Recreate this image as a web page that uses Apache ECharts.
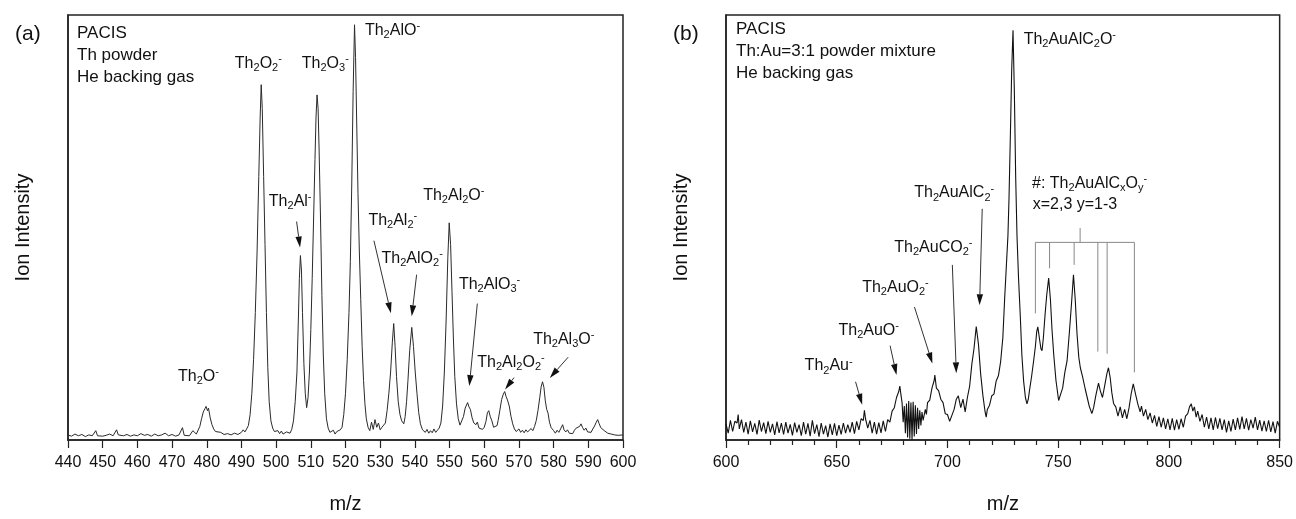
<!DOCTYPE html>
<html>
<head>
<meta charset="utf-8">
<script src="https://cdn.jsdelivr.net/npm/echarts@6.0.0/dist/echarts.min.js"></script>
<style>
html, body { margin: 0; padding: 0; background: #fff; }
#main { width: 1296px; height: 519px; }
</style>
</head>
<body>
<div id="main"></div>
<script>
var FONT = '"Liberation Sans", Arial, Helvetica, sans-serif';

// (a) Th powder, He backing gas : [m/z, intensity]
var specA = [
  [440,1.2],[441,0.9],[442,1.4],[443,1.0],[444,1.3],[445,0.8],[446,1.2],[447,1.0],[448,2.2],[448.5,1.0],
  [449,1.3],[450,0.9],[451,1.1],[452,1.4],[453,1.0],[454,2.4],[454.5,1.2],[455,1.6],[456,1.0],[457,1.3],
  [458,0.9],[459,1.2],[460,1.0],[461,1.5],[462,1.1],[463,1.3],[464,0.9],[465,1.4],[466,1.0],[467,1.2],
  [468,1.6],[469,1.0],[470,1.3],[471,0.9],[472,1.2],[473,2.9],[473.5,1.1],[474,1.4],[475,1.0],[476,2.2],
  [477,1.4],[478,3.2],[478.5,5.0],[479,6.6],[479.5,7.4],[479.8,7.9],[480.2,6.9],[480.5,7.5],[481,5.2],[481.5,3.6],
  [482,2.6],[482.5,2.0],[483,1.6],[484,1.8],[485,1.3],[486,1.5],[487,1.2],[488,1.6],[489,1.3],[490,1.8],
  [490.5,2.4],[491,1.9],[491.5,2.6],[492,3.4],[492.5,6.0],[493,11.0],[493.5,19.0],[494,30.0],[494.5,44.0],[495,62.0],
  [495.4,76.0],[495.7,83.6],[496.0,78.0],[496.4,62.0],[496.8,46.0],[497.2,30.0],[497.6,17.0],[498,9.0],[498.5,4.5],[499,2.8],
  [499.5,2.0],[500,1.6],[500.5,2.2],[501,1.5],[501.5,2.1],[502,1.4],[503,1.9],[504,1.6],[504.5,2.5],[505,4.5],
  [505.5,9.0],[506,16.0],[506.4,28.0],[506.7,38.0],[507.0,43.4],[507.3,40.0],[507.6,30.0],[508,18.0],[508.4,11.0],[508.8,7.6],
  [509.2,10.0],[509.6,16.0],[510,26.0],[510.4,38.0],[510.8,52.0],[511.2,66.0],[511.5,76.0],[511.8,81.2],[512.1,78.0],[512.4,68.0],
  [512.8,52.0],[513.2,34.0],[513.6,20.0],[514,11.0],[514.5,5.0],[515,2.8],[515.5,1.8],[516,1.5],[516.5,2.3],[517,1.4],
  [517.5,2.0],[518,1.6],[518.5,2.4],[519,3.0],[519.5,6.0],[520,11.0],[520.5,19.0],[521,30.0],[521.4,42.0],[521.8,60.0],
  [522.2,82.0],[522.6,97.7],[522.9,90.0],[523.2,76.0],[523.6,58.0],[524,44.0],[524.4,33.0],[524.8,22.0],[525.2,14.0],[525.6,8.5],
  [526,5.0],[526.5,3.0],[527,2.2],[527.5,4.2],[528,2.5],[528.5,4.8],[529,3.0],[529.5,4.0],[530,2.4],[530.5,3.0],
  [531,2.6],[531.5,4.0],[532,7.0],[532.5,11.0],[533,16.0],[533.5,23.0],[533.9,27.4],[534.3,22.0],[534.7,15.0],[535.2,9.0],
  [535.7,6.0],[536.2,4.5],[536.8,3.8],[537.2,5.5],[537.6,9.0],[538,14.0],[538.5,21.0],[539.1,26.5],[539.6,22.0],[540.1,16.0],
  [540.6,11.0],[541.1,6.5],[541.6,3.8],[542.2,2.4],[543,1.8],[543.5,2.5],[544,1.6],[544.5,2.2],[545,1.7],[545.5,2.6],
  [546,1.8],[546.5,2.3],[547,2.8],[547.5,4.0],[548,8.0],[548.5,16.0],[549,28.0],[549.5,43.0],[549.9,51.1],[550.3,46.0],
  [550.7,35.0],[551.1,24.0],[551.5,15.0],[552,8.5],[552.5,5.0],[553,3.5],[553.5,3.8],[554,5.5],[554.5,7.5],[555.2,8.8],
  [555.6,7.8],[556,7.2],[556.5,5.2],[557,4.0],[557.6,3.6],[558,4.2],[558.5,2.8],[559,3.2],[559.5,2.5],[560,3.0],
  [560.5,4.4],[560.9,6.4],[561.3,6.9],[561.7,5.6],[562.2,4.5],[562.7,3.0],[563.2,2.6],[563.7,3.4],[564,4.6],[564.5,7.0],
  [565,9.5],[565.5,10.8],[565.9,11.4],[566.3,10.2],[566.7,9.4],[567.2,8.0],[567.7,5.6],[568.2,3.8],[568.7,2.6],[569.2,2.0],
  [570,2.6],[570.5,1.8],[571,2.3],[571.5,1.7],[572,2.4],[572.5,1.9],[573,2.1],[573.5,2.7],[574,2.2],[574.5,3.2],
  [575,4.6],[575.5,7.0],[576,10.0],[576.4,12.5],[576.8,13.7],[577.2,12.4],[577.6,9.2],[578,7.2],[578.4,6.3],[578.8,4.2],
  [579.3,2.9],[580,2.2],[580.5,1.6],[581,2.3],[581.5,1.8],[582,2.6],[582.6,3.6],[583,2.4],[583.5,1.9],[584,2.4],
  [584.5,1.6],[585,2.0],[585.5,1.5],[586,2.3],[586.5,2.8],[587,2.4],[587.5,3.2],[587.9,3.8],[588.3,3.0],[588.8,2.3],
  [589.3,2.8],[589.8,1.9],[590.3,2.3],[590.8,1.8],[591.3,2.6],[591.8,3.3],[592.3,4.2],[592.7,4.8],[593.1,3.9],[593.6,2.9],
  [594.1,3.3],[594.6,2.2],[595.1,2.4],[595.6,1.6],[596.1,1.9],[596.6,1.4],[597.1,1.7],[597.6,1.2],[598.1,1.5],[598.6,1.1],
  [599.1,1.4],[600,1.2]
];

// (b) Th:Au=3:1 powder mixture : [m/z, intensity]
var specB = [
  [600,3.8],[601,1.6],[602,4.6],[603,2.0],[604,4.4],[605,4.0],[605.5,6.0],[606,2.6],[607,4.8],[608,1.8],
  [609,4.2],[610,1.4],[611,4.5],[612,1.9],[613,3.9],[614,1.3],[615,4.7],[616,2.0],[617,4.1],[618,1.5],
  [619,4.4],[620,1.8],[621,3.8],[622,1.2],[623,4.3],[624,1.7],[625,4.0],[626,1.3],[627,4.2],[628,1.6],
  [629,3.7],[630,1.1],[631,4.1],[632,1.8],[633,3.6],[634,1.0],[635,4.2],[636,1.4],[637,3.9],[638,0.9],
  [639,4.6],[640,1.5],[641,3.6],[642,0.8],[643,4.0],[644,1.4],[645,3.4],[646,0.7],[647,3.8],[648,1.2],
  [649,3.9],[650,1.0],[651,3.5],[652,1.3],[653,4.0],[654,1.6],[655,3.6],[656,1.8],[657,4.2],[658,1.5],
  [659,4.4],[660,2.4],[661,5.0],[662,4.6],[662.5,7.0],[663,5.0],[664,2.8],[665,4.6],[666,1.6],[667,4.2],
  [668,1.4],[669,4.1],[670,1.7],[671,4.5],[672,2.0],[673,4.8],[674,4.2],[675,6.8],[676,7.6],[677,10.0],
  [678,11.4],[678.5,12.7],[679,10.6],[679.5,8.8],[680,4.2],[680.5,8.0],[681,1.6],[681.5,8.6],[682,0.6],[682.5,9.2],
  [683,0.3],[683.5,8.8],[684,0.1],[684.5,9.0],[685,0.8],[685.5,8.2],[686,1.4],[686.5,7.6],[687,2.6],[687.5,7.0],
  [688,3.4],[688.5,6.6],[689,4.6],[690,7.2],[690.5,6.0],[691,8.8],[692,9.4],[693,12.2],[694,14.0],[694.3,15.3],
  [695,12.2],[696,11.6],[697,9.6],[698,8.8],[699,6.2],[700,6.0],[701,4.4],[702,5.8],[703,7.2],[704,9.6],
  [704.9,10.4],[706,7.6],[707,9.6],[708,6.6],[709,10.0],[710,12.6],[711,17.8],[712,21.6],[713,26.7],[714,22.5],
  [715,15.5],[716,10.5],[717,6.6],[717.5,5.4],[718,7.2],[719,8.2],[720,10.4],[721,10.8],[722,13.9],[723,15.1],
  [724,18.4],[725,24.0],[725.8,33.0],[726.5,40.0],[727.3,48.0],[727.8,57.0],[728.5,74.0],[729.0,87.0],[729.6,96.4],[730.2,82.0],
  [730.8,62.0],[731.4,48.0],[732.1,38.0],[732.9,29.0],[733.6,20.0],[734.4,13.8],[735.2,10.0],[735.9,8.5],[736.5,9.6],[737,11.5],
  [738,15.0],[739,19.0],[739.7,22.0],[740.3,25.5],[740.8,26.6],[741.5,24.0],[742.2,21.5],[742.7,21.0],[743.3,24.0],[744,29.0],
  [744.8,34.0],[745.7,38.1],[746.5,33.0],[747.2,26.0],[748,20.0],[749,14.0],[750.2,9.3],[751,10.6],[752,12.2],[753,15.9],
  [754,18.6],[755,25.0],[756,32.0],[756.9,38.9],[757.7,33.0],[758.5,25.0],[759.3,19.5],[760,17.0],[761,14.9],[762.2,12.0],
  [763,11.6],[764,8.0],[765.2,6.2],[766,7.6],[767,10.5],[768.2,13.4],[769,11.6],[770,10.0],[771,12.8],[772,15.6],
  [772.7,17.0],[773.5,14.6],[774.2,11.2],[775,8.6],[776,7.8],[777,5.6],[778,7.8],[779,5.2],[780,7.2],[781,5.0],
  [782,7.6],[783,11.0],[783.9,13.2],[785,10.6],[786,8.4],[787,6.6],[787.6,8.0],[788.5,5.6],[789.5,7.2],[790.5,4.8],
  [791.5,6.4],[792.5,4.0],[793.5,5.8],[794.5,3.2],[795.5,5.5],[796.5,3.0],[797.5,5.2],[798.5,2.6],[799.5,5.0],[800.5,2.4],
  [801.5,5.1],[802.5,2.3],[803.5,4.8],[804.5,2.5],[805.5,5.0],[806.5,3.0],[807.5,5.6],[808.5,6.2],[809.3,7.8],[810.1,8.5],
  [810.8,6.8],[811.5,7.8],[812.3,5.4],[813,6.8],[814,4.4],[815,6.0],[816,3.0],[817,5.4],[818,2.6],[819,5.2],
  [820,2.4],[821,5.3],[822,2.7],[823,5.1],[824,2.4],[825,4.8],[826,1.8],[827,4.5],[828,2.0],[829,4.9],
  [830,2.4],[831,5.2],[832,2.5],[833,5.5],[834,2.6],[835,5.1],[836,2.3],[837,4.8],[838,2.8],[839,5.4],
  [840,2.4],[841,4.7],[842,2.1],[843,4.5],[844,2.0],[845,4.6],[846,1.9],[847,4.3],[848,1.6],[849,4.4],
  [850,3.0]
];

// peak labels: [m/z, intensity, text]  (text anchored at its left edge)
var labelsA = [
  [471.7, 15.0, 'Th{s|2}O{p|-}'],
  [488.1, 88.5, 'Th{s|2}O{s|2}{p|-}'],
  [507.4, 88.5, 'Th{s|2}O{s|3}{p|-}'],
  [525.6, 96.4, 'Th{s|2}AlO{p|-}'],
  [497.9, 56.2, 'Th{s|2}Al{p|-}'],
  [526.6, 51.6, 'Th{s|2}Al{s|2}{p|-}'],
  [530.4, 42.6, 'Th{s|2}AlO{s|2}{p|-}'],
  [542.4, 57.6, 'Th{s|2}Al{s|2}O{p|-}'],
  [552.7, 36.6, 'Th{s|2}AlO{s|3}{p|-}'],
  [558.0, 18.2, 'Th{s|2}Al{s|2}O{s|2}{p|-}'],
  [574.1, 23.7, 'Th{s|2}Al{s|3}O{p|-}']
];
var labelsB = [
  [635.5, 17.4, 'Th{s|2}Au{p|-}'],
  [650.8, 25.7, 'Th{s|2}AuO{p|-}'],
  [661.5, 35.9, 'Th{s|2}AuO{s|2}{p|-}'],
  [676.0, 45.2, 'Th{s|2}AuCO{s|2}{p|-}'],
  [685.0, 58.1, 'Th{s|2}AuAlC{s|2}{p|-}'],
  [734.4, 94.2, 'Th{s|2}AuAlC{s|2}O{p|-}'],
  [738.2, 60.4, '#: Th{s|2}AuAlC{s|x}O{s|y}{p|-}'],
  [738.5, 55.4, 'x=2,3 y=1-3']
];

// arrows: [from m/z, from intensity, to m/z, to intensity]
var arrowsA = [
  [505.9, 51.4, 506.9, 45.3],
  [528.2, 46.9, 533.1, 29.8],
  [540.5, 38.9, 539.1, 29.1],
  [558.0, 32.1, 555.7, 12.7],
  [568.6, 14.7, 566.0, 11.9],
  [584.2, 19.5, 578.9, 14.6]
];
var arrowsB = [
  [658.5, 13.7, 661.5, 8.3],
  [674.1, 22.2, 677.0, 15.3],
  [685.1, 31.3, 693.2, 18.0],
  [702.2, 41.2, 704.0, 15.7],
  [715.7, 54.4, 714.5, 31.7]
];

// "#" bracket in (b)
var bracketMz = [739.7, 746.1, 757.2, 767.9, 772.1, 784.4];
var bracketLow = [29.8, 40.4, 41.2, 20.8, 20.3, 15.9];
var bracketBar = 46.5;
var bracketStem = [759.9, 49.9];

var richStyle = {
  s: { fontSize: 11, fontFamily: FONT, fill: '#111', verticalAlign: 'bottom', lineHeight: 2 },
  p: { fontSize: 11, fontFamily: FONT, fill: '#111', verticalAlign: 'top', lineHeight: 7 }
};

function labelSeries(list, gi) {
  return {
    type: 'custom', xAxisIndex: gi, yAxisIndex: gi, silent: true, z: 10,
    data: list.map(function (d) { return [d[0], d[1]]; }),
    renderItem: function (params, api) {
      var p = api.coord([api.value(0), api.value(1)]);
      return {
        type: 'text', x: p[0], y: p[1],
        style: {
          text: list[params.dataIndex][2],
          fontSize: 16, fontFamily: FONT, fill: '#111',
          align: 'left', verticalAlign: 'middle', lineHeight: 20,
          rich: richStyle
        }
      };
    }
  };
}

function arrowSeries(list, gi) {
  return {
    type: 'custom', xAxisIndex: gi, yAxisIndex: gi, silent: true, z: 9,
    data: list,
    encode: { x: [0, 2], y: [1, 3] },
    renderItem: function (params, api) {
      var a = api.coord([api.value(0), api.value(1)]);
      var b = api.coord([api.value(2), api.value(3)]);
      var dx = b[0] - a[0], dy = b[1] - a[1];
      var len = Math.sqrt(dx * dx + dy * dy);
      var ux = dx / len, uy = dy / len;
      var hl = 11, hw = 3.2;
      var bx = b[0] - ux * hl, by = b[1] - uy * hl;
      return {
        type: 'group',
        children: [
          { type: 'line', shape: { x1: a[0], y1: a[1], x2: bx, y2: by }, style: { stroke: '#333', lineWidth: 1 } },
          { type: 'polygon', shape: { points: [[b[0], b[1]], [bx - uy * hw, by + ux * hw], [bx + uy * hw, by - ux * hw]] }, style: { fill: '#111' } }
        ]
      };
    }
  };
}

var bracketSegs = bracketMz.map(function (m, i) { return [m, bracketLow[i], m, bracketBar]; });
bracketSegs.push([bracketMz[0], bracketBar, bracketMz[bracketMz.length - 1], bracketBar]);
bracketSegs.push([bracketStem[0], bracketBar, bracketStem[0], bracketStem[1]]);

var axisCol = '#222';

function xAx(gi, min, max, interval, minor) {
  return {
    gridIndex: gi, type: 'value', min: min, max: max, interval: interval,
    name: 'm/z', nameLocation: 'middle', nameGap: 54,
    nameTextStyle: { fontSize: 20, color: '#111', fontFamily: FONT },
    axisLine: { show: true, onZero: false, lineStyle: { color: axisCol, width: 1.5 } },
    axisTick: { show: true, inside: false, length: 8, lineStyle: { color: axisCol, width: 1.2 } },
    minorTick: { show: minor, splitNumber: 5, length: 5, lineStyle: { color: axisCol, width: 1.2 } },
    axisLabel: { fontSize: 16, color: '#111', fontFamily: FONT, margin: 15 },
    splitLine: { show: false }
  };
}
function yAx(gi) {
  return {
    gridIndex: gi, type: 'value', min: 0, max: 100,
    name: 'Ion Intensity', nameLocation: 'middle', nameGap: 35, nameRotate: 90,
    nameTextStyle: { fontSize: 20, color: '#111', fontFamily: FONT },
    axisLine: { show: true, lineStyle: { color: axisCol, width: 1.5 } },
    axisTick: { show: false }, axisLabel: { show: false }, splitLine: { show: false }
  };
}

function infoText(x, y, t) {
  return { type: 'text', x: x, y: y, style: { text: t, fontSize: 17, fontFamily: FONT, fill: '#111', verticalAlign: 'middle' } };
}

var chart = echarts.init(document.getElementById('main'));
chart.setOption({
  animation: false,
  backgroundColor: '#fff',
  grid: [
    { left: 68, right: 673, top: 15, bottom: 65, show: true, borderColor: axisCol, borderWidth: 1.5, backgroundColor: 'transparent' },
    { left: 726, right: 14, top: 15, bottom: 65, show: true, borderColor: axisCol, borderWidth: 1.5, backgroundColor: 'transparent' }
  ],
  xAxis: [xAx(0, 440, 600, 10, false), xAx(1, 600, 850, 50, true)],
  yAxis: [yAx(0), yAx(1)],
  graphic: [
    { type: 'text', x: 15, y: 34, style: { text: '(a)', fontSize: 21, fontFamily: FONT, fill: '#111', verticalAlign: 'middle' } },
    { type: 'text', x: 673, y: 34, style: { text: '(b)', fontSize: 21, fontFamily: FONT, fill: '#111', verticalAlign: 'middle' } },
    infoText(77, 33, 'PACIS'),
    infoText(77, 55, 'Th powder'),
    infoText(77, 77, 'He backing gas'),
    infoText(736, 29, 'PACIS'),
    infoText(736, 51, 'Th:Au=3:1 powder mixture'),
    infoText(736, 73, 'He backing gas')
  ],
  series: [
    {
      type: 'line', xAxisIndex: 0, yAxisIndex: 0, data: specA, showSymbol: false, symbol: 'none',
      lineStyle: { color: '#2a2a2a', width: 1 }, silent: true
    },
    {
      type: 'line', xAxisIndex: 1, yAxisIndex: 1, data: specB, showSymbol: false, symbol: 'none',
      lineStyle: { color: '#111', width: 1.1 }, silent: true
    },
    labelSeries(labelsA, 0),
    labelSeries(labelsB, 1),
    arrowSeries(arrowsA, 0),
    arrowSeries(arrowsB, 1),
    {
      type: 'custom', xAxisIndex: 1, yAxisIndex: 1, silent: true, z: 8,
      data: bracketSegs, encode: { x: [0, 2], y: [1, 3] },
      renderItem: function (params, api) {
        var a = api.coord([api.value(0), api.value(1)]);
        var b = api.coord([api.value(2), api.value(3)]);
        return { type: 'line', shape: { x1: a[0], y1: a[1], x2: b[0], y2: b[1] }, style: { stroke: '#888', lineWidth: 1 } };
      }
    }
  ]
});
</script>
</body>
</html>
